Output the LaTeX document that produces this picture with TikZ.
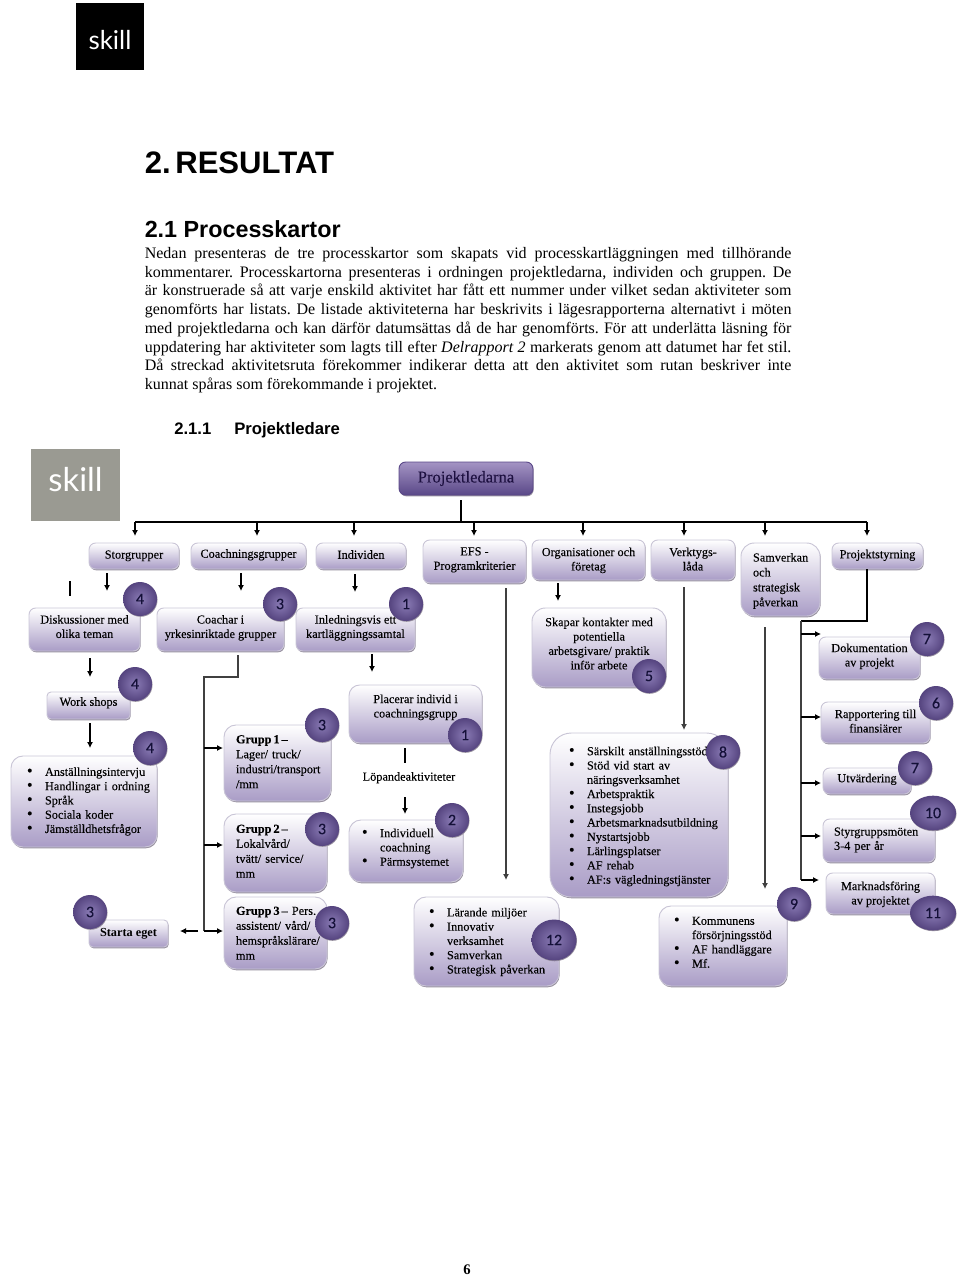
\documentclass[tikz,border=0pt]{standalone}
\usepackage{fontspec}
\setmainfont{Liberation Serif}
\setsansfont{Liberation Sans}
\newfontfamily\logofont{Lato}
\newfontfamily\badgefont[FakeBold=0.4]{Carlito}
\newfontfamily\mapfont[FakeBold=0.12]{Liberation Serif}
\usetikzlibrary{arrows.meta,shadows,shapes.geometric}

\definecolor{boxpurple}{HTML}{A99CC6}
\definecolor{boxedge}{HTML}{C9C5D6}
\definecolor{boxshadow}{HTML}{97909F}
\definecolor{badgelight}{HTML}{8A7BB5}
\definecolor{badgedark}{HTML}{55447F}
\definecolor{badgetext}{HTML}{141038}
\definecolor{roottop}{HTML}{A494C4}
\definecolor{rootmid}{HTML}{8F7DB6}
\definecolor{rootdark}{HTML}{5A4888}
\definecolor{roottext}{HTML}{1D1040}
\definecolor{logogray}{HTML}{9A9A92}

\newcommand{\lst}[1]{\mbox{\makebox[13.5pt][l]{\fontsize{12}{10}\selectfont\textbullet}#1}}
\newcommand{\cnt}[1]{\mbox{\hspace{13.5pt}#1}}
\newcommand{\jl}[1]{\makebox[485pt][s]{#1}}
\newcommand{\grp}[1]{\textbf{\spaceskip=1.5pt #1}}

\tikzset{
  wh/.style 2 args={minimum width=#1*0.75pt, minimum height=#2*0.75pt},
  tw/.style={text width=#1*0.75pt},
  up/.style={text depth=#1*1.5pt},
  lup/.style 2 args={text depth=(#1-1)*10.7pt+2pt+#2*1.5pt},
  gup/.style={text depth=3*11.2pt+2pt+#1*1.5pt},
  mapbox/.style={rectangle, rounded corners=5pt, draw=boxedge, line width=0.7pt,
    top color=white, bottom color=boxpurple, inner sep=0pt, align=center,
    general shadow={shadow xshift=0.5pt, shadow yshift=-1pt, fill=boxshadow},
    font=\mapfont\fontsize{9.2}{10.8}\selectfont},
  listbox/.style={mapbox, align=left, rounded corners=9pt, font=\mapfont\fontsize{9.2}{10.7}\selectfont},
  groupbox/.style={listbox, font=\mapfont\fontsize{9.2}{11.2}\selectfont},
  rootbox/.style={mapbox, top color=roottop, middle color=rootmid, bottom color=rootdark, draw=rootdark,
    text=roottext, font=\mapfont\fontsize{12.4}{14}\selectfont},
  badge/.style={circle, inner sep=0pt, minimum size=25.5pt, inner color=badgelight,
    outer color=badgedark,
    general shadow={shadow xshift=0.4pt, shadow yshift=-0.6pt, fill=boxshadow},
    font=\badgefont\fontsize{12}{12}\selectfont},
  logo/.style={rectangle, inner sep=0pt, text=white},
  plain/.style={inner sep=0pt, anchor=west, text height=8pt, text depth=2.5pt},
  stem/.style={line width=0.8pt, black},
  arrowline/.style={line width=0.8pt, -{Latex[length=4.5pt,width=4.5pt]}},
  longarrow/.style={arrowline, black!75}
}

\begin{document}
\begin{tikzpicture}[x=0.75pt, y=-0.75pt]
\useasboundingbox (0,0) rectangle (960,1276);

% Page header
\node[logo, fill=black, wh={68}{67}, text height=19pt, font=\logofont\fontsize{19.5}{19.5}\selectfont] (toplogo) at (110,36.5) {skill};
\node[plain, font=\sffamily\bfseries\fontsize{23.3}{23.3}\selectfont, text height=17pt, text depth=0pt] (title) at (144.5,162) {2.\hspace{3.5pt}RESULTAT};
\node[plain, font=\sffamily\bfseries\fontsize{17.5}{17.5}\selectfont, text height=13pt, text depth=0pt] (subtitle) at (144.5,229) {2.1 Processkartor};
\node[inner sep=0pt, anchor=north west, align=left, font=\frenchspacing\fontsize{12}{14.05}\selectfont] (bodytext) at (144.5,247) {%
\jl{Nedan presenteras de tre processkartor som skapats vid processkartläggningen med tillhörande}\\
\jl{kommentarer. Processkartorna presenteras i ordningen projektledarna, individen och gruppen. De}\\
\jl{är konstruerade så att varje enskild aktivitet har fått ett nummer under vilket sedan aktiviteter som}\\
\jl{genomförts har listats. De listade aktiviteterna har beskrivits i lägesrapporterna alternativt i möten}\\
\jl{med projektledarna och kan därför datumsättas då de har genomförts. För att underlätta läsning för}\\
\jl{uppdatering har aktiviteter som lagts till efter \emph{Delrapport 2} markerats genom att datumet har fet stil.}\\
\jl{Då streckad aktivitetsruta förekommer indikerar detta att den aktivitet som rutan beskriver inte}\\
kunnat spåras som förekommande i projektet.};
\node[plain, font=\sffamily\bfseries\fontsize{12.5}{12.5}\selectfont, text depth=0pt] (secnum) at (174,429) {2.1.1};
\node[plain, font=\sffamily\bfseries\fontsize{12.5}{12.5}\selectfont, text depth=0pt] (secname) at (234,429) {Projektledare};

% Map logo
\node[logo, fill=logogray, wh={89}{72}, text depth=8.5pt, font=\logofont\fontsize{24.6}{24.6}\selectfont] (maplogo) at (75.5,485) {skill};

% Top row
\node[rootbox, wh={134}{33}] (root) at (466,478.5) {Projektledarna};
\node[mapbox, wh={90}{26}, up=1.5] (stor) at (134,556) {Storgrupper};
\node[mapbox, wh={115}{26}, up=2.5] (coach) at (248.5,556) {Coachningsgrupper};
\node[mapbox, wh={90}{26}, up=1.5] (indiv) at (361,556) {Individen};
\node[mapbox, wh={103}{43}, up=3] (efs) at (474.5,561.5) {EFS -\\Programkriterier};
\node[mapbox, wh={113}{40}, up=1] (org) at (588.5,560) {Organisationer och\\företag};
\node[mapbox, wh={84}{40}, up=1] (verk) at (693,560) {Verktygs-\\låda};
\node[groupbox, wh={79}{73}, tw=55, gup=-1.5, rounded corners=10pt] (samv) at (780.5,579.5) {Samverkan\\och\\strategisk\\påverkan};
\node[mapbox, wh={91}{26}, up=2] (styr) at (877.5,556) {Projektstyrning};

% Second row
\node[mapbox, wh={111}{43}, up=3] (disk) at (84.5,629.5) {Diskussioner med\\olika teman};
\node[mapbox, wh={127}{43}, up=3] (yrke) at (220.5,629.5) {Coachar i\\yrkesinriktade grupper};
\node[mapbox, wh={119}{43}, up=3] (inled) at (355.5,629.5) {Inledningsvis ett\\kartläggningssamtal};
\node[mapbox, wh={134}{79}, up=4, rounded corners=10pt] (skapar) at (599,647.5) {Skapar kontakter med\\potentiella\\arbetsgivare/ praktik\\inför arbete};

% Left column
\node[mapbox, wh={83}{27}, up=4, rounded corners=3pt] (work) at (88.5,705.5) {Work shops};
\node[listbox, wh={146}{91}, tw=114, lup={5}{0}] (intervju) at (84,801.5) {\lst{Anställningsintervju}\\\lst{Handlingar i ordning}\\\lst{Språk}\\\lst{Sociala koder}\\\lst{Jämställdhetsfrågor}};
\node[mapbox, wh={79}{27}, rounded corners=3pt, font=\bfseries\fontsize{9.2}{10.8}\selectfont] (starta) at (128.5,933.5) {Starta eget};

% Groups
\node[groupbox, wh={107}{76}, tw=83, gup=0] (g1) at (277.5,763) {\grp{Grupp 1 –}\\Lager/ truck/\\industri/transport\\/mm};
\node[groupbox, wh={103}{78}, tw=79, gup=0.5] (g2) at (275.5,853) {\grp{Grupp 2 –}\\Lokalvård/\\tvätt/ service/\\mm};
\node[groupbox, wh={103}{72}, tw=79, gup=-1.5] (g3) at (275.5,933) {\mbox{\grp{Grupp 3 –} Pers.}\\assistent/ vård/\\hemspråkslärare/\\mm};

% Middle column
\node[mapbox, wh={133}{58}, up=8, rounded corners=8pt] (plac) at (415.5,714) {Placerar individ i\\coachningsgrupp};
\node[plain, anchor=center, font=\mapfont\fontsize{9.2}{10.8}\selectfont] (lopande) at (409,777) {Löpandeaktiviteter};
\node[listbox, wh={114}{62}, tw=88, lup={3}{2.5}] (indcoach) at (406,851) {\lst{Individuell}\\\cnt{coachning}\\\lst{Pärmsystemet}};
\node[listbox, wh={145}{89}, tw=115, lup={5}{-0.5}] (larande) at (486.5,941.5) {\lst{Lärande miljöer}\\\lst{Innovativ}\\\cnt{verksamhet}\\\lst{Samverkan}\\\lst{Strategisk påverkan}};
\node[listbox, wh={178}{164}, tw=140, lup={10}{-1.5}, rounded corners=16pt] (stod) at (639,815) {\lst{Särskilt anställningsstöd}\\\lst{Stöd vid start av}\\\cnt{näringsverksamhet}\\\lst{Arbetspraktik}\\\lst{Instegsjobb}\\\lst{Arbetsmarknadsutbildning}\\\lst{Nystartsjobb}\\\lst{Lärlingsplatser}\\\lst{AF rehab}\\\lst{AF:s vägledningstjänster}};
\node[listbox, wh={128}{80}, tw=98, lup={4}{2.5}] (kommun) at (723,946) {\lst{Kommunens}\\\cnt{försörjningsstöd}\\\lst{AF handläggare}\\\lst{Mf.}};

% Right column
\node[mapbox, wh={101}{42}, up=3] (dok) at (869.5,658) {Dokumentation\\av projekt};
\node[mapbox, wh={109}{41}, up=1.5] (rapp) at (875.5,722.5) {Rapportering till\\finansiärer};
\node[mapbox, wh={88}{26}, up=3] (utv) at (867,781) {Utvärdering};
\node[listbox, wh={112}{43}, tw=90, lup={2}{0.5}, rounded corners=5pt] (mote) at (879,840.5) {Styrgruppsmöten\\3-4 per år};
\node[mapbox, wh={109}{41}, up=0.5] (mark) at (880.5,893.5) {Marknadsföring\\av projektet};

% Badges
\foreach \name/\x/\y/\num in {b1/140/599/4, b2/280/604/3, b3/406/604/1, b4/135/684/4, b5/150/748/4,
  b6/322/725/3, b7/322/829/3, b8/332/923/3, b9/90/912/3, b10/465/735/1, b11/452/820/2,
  b12/649/676/5, b13/723/752/8, b14/794/904/9, b15/927/639/7, b16/936/703/6, b17/915/768/7}
  \node[badge] (\name) at (\x,\y) {\textcolor{badgetext}{\num}};
\foreach \name/\x/\y/\num/\w/\h in {b18/933/813/10/34.5/26, b19/933/913/11/34.5/26, b20/554/940/12/33.7/30.7}
  \node[badge, shape=ellipse, minimum size=0pt, minimum width=\w pt, minimum height=\h pt] (\name) at (\x,\y) {\textcolor{badgetext}{\num}};

% Bus
\coordinate (rootstem) at (461,500);
\coordinate (busl) at (135,522);
\coordinate (busm) at (461,522);
\coordinate (busr) at (867,522);
\draw[stem] (rootstem) -- (busm);
\draw[stem] (busl) -- (busr);
\foreach \x [count=\i] in {135,257,354,474,583,684,765,867} {
  \coordinate (dropa\i) at (\x,522);
  \coordinate (dropb\i) at (\x,536);
  \draw[arrowline] (dropa\i) -- (dropb\i);
}

% Short arrows
\foreach \n/\x/\ya/\yb in {s1/107/573/591, s2/241/573/591, s3/355/574/592, s4/90/658/677,
  s5/90/723/748, s6/372/654/672, s7/405/797/814, s8/558/583/601} {
  \coordinate (\n a) at (\x,\ya);
  \coordinate (\n b) at (\x,\yb);
  \draw[arrowline] (\n a) -- (\n b);
}

% Long arrows
\foreach \n/\x/\ya/\yb in {l1/506/588/880, l2/684/587/730, l3/765/627/889} {
  \coordinate (\n a) at (\x,\ya);
  \coordinate (\n b) at (\x,\yb);
  \draw[longarrow] (\n a) -- (\n b);
}

% Plain ticks
\coordinate (ticka) at (70,581);
\coordinate (tickb) at (70,596);
\draw[stem] (ticka) -- (tickb);
\coordinate (lopa) at (405,748);
\coordinate (lopb) at (405,763);
\draw[stem] (lopa) -- (lopb);

% Group branch
\coordinate (gstart) at (238,655);
\coordinate (gknee) at (238,677);
\coordinate (gtop) at (204,677);
\coordinate (gend) at (204,931);
\draw[stem, black!75] (gstart) -- (gknee) -- (gtop) -- (gend);
\foreach \n/\y in {j1/748, j2/845, j3/931} {
  \coordinate (\n) at (204,\y);
  \coordinate (\n t) at (223,\y);
  \draw[arrowline] (\n) -- (\n t);
}
\coordinate (startaa) at (198,931);
\coordinate (startab) at (180,931);
\draw[arrowline] (startaa) -- (startab);

% Steering branch
\coordinate (rknee) at (867,621);
\coordinate (rtop) at (801,621);
\coordinate (rend) at (801,880);
\draw[stem] (styr.south -| rknee) -- (rknee) -- (rtop);
\draw[stem, black!75] (rtop) -- (rend);
\foreach \n/\y/\t in {k1/634/821, k2/717/821, k3/783/821, k4/836/821, k5/880/819} {
  \coordinate (\n) at (801,\y);
  \coordinate (\n t) at (\t,\y);
  \draw[arrowline] (\n) -- (\n t);
}

% Page number
\node[inner sep=0pt, font=\bfseries\fontsize{11}{11}\selectfont] (pagenum) at (467,1270) {6};
\end{tikzpicture}
\end{document}
